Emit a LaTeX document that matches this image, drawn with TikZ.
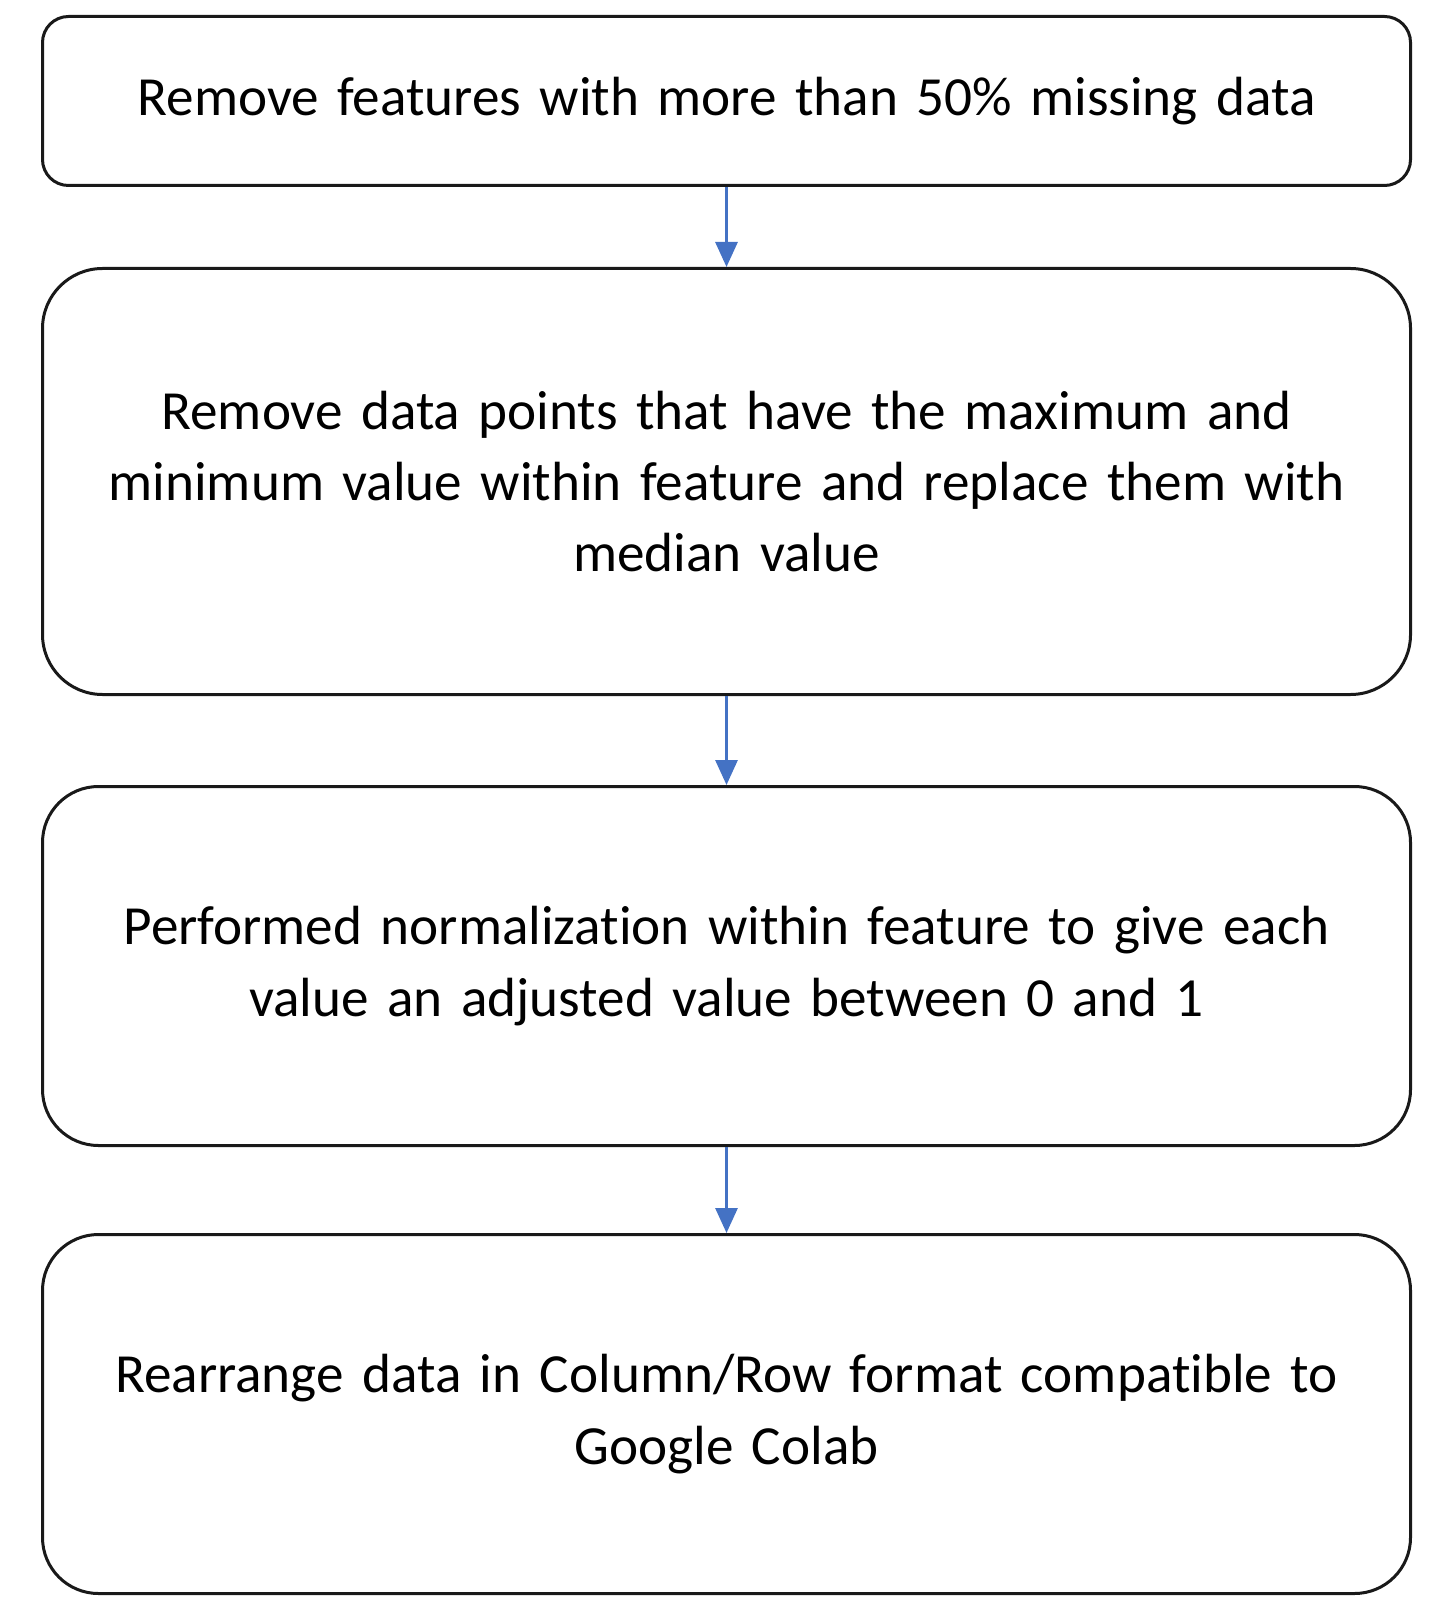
\documentclass[tikz,border=0pt]{standalone}
\usepackage{fontspec}
\setmainfont[Ligatures=NoCommon]{Carlito}
\usetikzlibrary{positioning}
\usetikzlibrary{arrows.meta}
\definecolor{flowblue}{HTML}{4472C4}
\tikzset{>={Triangle[width=11pt,length=12.5pt]}}
\tikzset{stepbox/.style={draw=black!90, line width=1.5pt, minimum width=684pt, text width=670pt, align=center, inner sep=0pt, font=\fontsize{27.6}{35.6}\selectfont}}
\tikzset{flow/.style={->, draw=flowblue, line width=1.5pt}}

\begin{document}
\begin{tikzpicture}
        \useasboundingbox (0,0) rectangle (719.5pt,-799pt);

        \node[stepbox, rounded corners=13pt, minimum height=84.5pt] (missing) at (363.25pt,-50.5pt)
         {Remove features with more than 50\% missing data};
        \node[stepbox, rounded corners=30pt, minimum height=213pt, below=40pt of missing] (extremes)
         {Remove data points that have the maximum and\\
          minimum value within feature and replace them with\\
          median value};
        \node[stepbox, rounded corners=28pt, minimum height=179.5pt, below=44.5pt of extremes] (normalize)
         {Performed normalization within feature to give each\\
          value an adjusted value between 0 and 1};
        \node[stepbox, rounded corners=28pt, minimum height=179.5pt, below=43pt of normalize] (colab)
         {Rearrange data in Column/Row format compatible to\\
          Google Colab};

        \draw[flow] (missing) -- (extremes);
        \draw[flow] (extremes) -- (normalize);
        \draw[flow] (normalize) -- (colab);
    \end{tikzpicture}
\end{document}
